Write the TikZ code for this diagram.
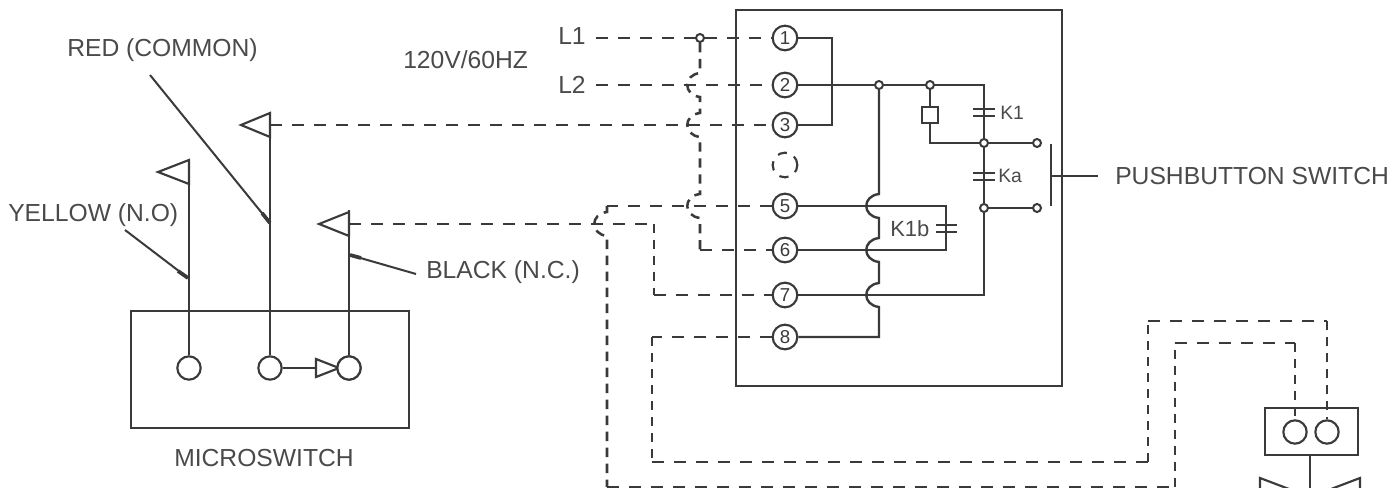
\documentclass[tikz,border=0pt]{standalone}
\usepackage{fontspec}
\setmainfont{Liberation Sans}
\definecolor{ink}{HTML}{3A3A3A}
\definecolor{txt}{HTML}{4A4A4A}
\def\jmpv#1#2{-- (#1,#2-12) .. controls (#1-17,#2-10) and (#1-17,#2+10) .. (#1,#2+12)}
\begin{document}
\begin{tikzpicture}[x=0.75pt,y=-0.75pt,
  wire/.style={draw=ink,line width=1.8pt,line join=miter},
  thin wire/.style={draw=ink,line width=1.5pt},
  dash h/.style={draw=ink,line width=1.9pt,dash pattern=on 9pt off 7.5pt},
  dash v/.style={draw=ink,line width=1.9pt,dash pattern=on 7pt off 5pt},
  term/.style={circle,draw=ink,line width=1.6pt,fill=white,minimum size=17.5pt,inner sep=0pt},
  numterm/.style={term,minimum size=18.5pt,font=\fontsize{14}{14}\selectfont,text=ink},
  dot/.style={circle,draw=ink,line width=1.5pt,fill=white,minimum size=6pt,inner sep=0pt},
  lbl/.style={inner sep=0pt,text=txt,font=\fontsize{18.5}{19}\selectfont},
  small lbl/.style={inner sep=0pt,text=txt,font=\fontsize{14.5}{15}\selectfont},
  mid lbl/.style={inner sep=0pt,text=txt,font=\fontsize{16.5}{17}\selectfont},
  flag/.style={draw=ink,line width=1.6pt,fill=white,line join=miter},
  leader/.style={draw=ink,line width=1.5pt},
  tip/.style={draw=ink,line width=2.8pt},
  box/.style={draw=ink,line width=1.9pt}]
\useasboundingbox (0,0) rectangle (1389,488);
\clip (0,0) rectangle (1389,488);
% boxes
\draw[box] (736,10) rectangle (1062,386);
\draw[box] (131,311) rectangle (409,428);
\draw[box] (1265,408) rectangle (1358,455);
% terminals
\node[numterm] (c1) at (785,38) {1};
\node[numterm] (c2) at (785,85) {2};
\node[numterm] (c3) at (785,125) {3};
\node[term,draw=ink,dash pattern=on 7pt off 6pt,minimum size=18.5pt] (c4) at (785,165) {};
\node[numterm] (c5) at (785,206) {5};
\node[numterm] (c6) at (785,250) {6};
\node[numterm] (c7) at (785,295) {7};
\node[numterm] (c8) at (785,337) {8};
\node[term] (my) at (189,368) {};
\node[term] (mr) at (270,368) {};
\node[term] (mb) at (349,368) {};
\node[term] (r1) at (1295,432) {};
\node[term] (r2) at (1327,432) {};
% dots
\node[dot] (jL) at (700,38) {};
\node[dot] (j1) at (879,85) {};
\node[dot] (j2) at (930,85) {};
\node[dot] (j3) at (984,143) {};
\node[dot] (j4) at (1037,143) {};
\node[dot] (j5) at (984,208) {};
\node[dot] (j6) at (1037,208) {};
% texts
\node[lbl,anchor=west] (tl1) at (558,36) {L1};
\node[lbl,anchor=west] (tl2) at (558,85) {L2};
\node[lbl,anchor=west] (t120) at (403,60) {120V/60HZ};
\node[lbl,anchor=west] (tred) at (67,50) {RED (COMMON)};
\node[lbl,anchor=west] (tyel) at (8,215) {YELLOW (N.O)};
\node[lbl,anchor=west] (tblk) at (426,272) {BLACK (N.C.)};
\node[lbl] (tmic) at (264,458) {MICROSWITCH};
\node[lbl,anchor=west] (tpb) at (1115,176) {PUSHBUTTON SWITCH};
\node[small lbl,anchor=west] (tk1) at (1000,113) {K1};
\node[small lbl,anchor=west] (tka) at (998,176) {Ka};
\node[mid lbl,anchor=west] (tk1b) at (890,229) {K1b};
% relay coil
\node[draw=ink,line width=1.6pt,fill=white,minimum size=12.5pt,inner sep=0pt] (coil) at (930,115) {};
% coordinates
\coordinate (pbtop) at (1051,144);
\coordinate (pbbot) at (1051,206);
\coordinate (pbmid) at (1051,176);
\coordinate (pbend) at (1098,176);
\coordinate (ft) at (1310,455);
\coordinate (fb) at (1310,490);
\coordinate (a1) at (270,125);
\coordinate (a2) at (349,224);
\coordinate (m1) at (700,250);
\coordinate (n1) at (607,206);
\coordinate (n2) at (607,487);
\coordinate (n3) at (1175,487);
\coordinate (n4) at (1175,343);
\coordinate (n5) at (1295,343);
\coordinate (p1) at (654,224);
\coordinate (p2) at (654,295);
\coordinate (q1) at (652,337);
\coordinate (q2) at (652,462);
\coordinate (q3) at (1148,462);
\coordinate (q4) at (1148,321);
\coordinate (q5) at (1327,321);
% solid wiring inside relay box
\draw[wire] (c1) -- (832,38) -- (832,125) -- (c3);
\draw[wire] (c2) -- (j1);
\draw[wire] (j1) -- (j2);
\draw[wire] (j2) -- (984,85) -- (j3);
\draw[wire] (j2) -- (coil);
\draw[wire] (coil) -- (930,143) -- (j3);
\draw[wire] (j3) -- (j4);
\draw[wire] (j3) -- (j5);
\draw[wire] (j5) -- (j6);
\draw[wire] (j5) -- (984,295) -- (c7);
\draw[wire] (c5) -- (946,206) -- (946,250) -- (c6);
\draw[wire] (j1) \jmpv{879}{206} \jmpv{879}{250} \jmpv{879}{295} -- (879,337) -- (c8);
% contacts
\draw[thin wire] (973,109) -- (995,109) (973,116) -- (995,116);
\draw[thin wire] (973,173) -- (995,173) (973,180) -- (995,180);
\draw[thin wire] (936,225) -- (957,225) (936,232) -- (957,232);
% pushbutton
\draw[wire,line width=2pt] (pbtop) -- (pbbot);
\draw[wire] (pbmid) -- (pbend);
% dashed wiring
\draw[dash h] (tl1.east)++(10,2) -- (jL);
\draw[dash h] (jL) -- (c1);
\draw[dash h] (tl2.east)++(10,0) -- (c2);
\draw[dash h] (a1) -- (c3);
\draw[dash v] (jL) \jmpv{700}{85} \jmpv{700}{125} \jmpv{700}{206} -- (m1);
\draw[dash h] (m1) -- (c6);
\draw[dash h] (c5) -- (n1);
\draw[dash v] (n1) \jmpv{607}{224} -- (n2);
\draw[dash h] (n2) -- (n3);
\draw[dash v] (n3) -- (n4);
\draw[dash h] (n4) -- (n5);
\draw[dash v] (n5) -- (r1);
\draw[dash h] (a2) -- (p1);
\draw[dash v] (p1) -- (p2);
\draw[dash h] (p2) -- (c7);
\draw[dash h] (c8) -- (q1);
\draw[dash v] (q1) -- (q2);
\draw[dash h] (q2) -- (q3);
\draw[dash v] (q3) -- (q4);
\draw[dash h] (q4) -- (q5);
\draw[dash v] (q5) -- (r2);
% microswitch leads and flags
\draw[wire] (my) -- (189,160);
\draw[wire] (mr) -- (270,113);
\draw[wire] (mb) -- (349,210);
\draw[flag] (189,160) -- (158,172) -- (189,184) -- cycle;
\draw[flag] (270,113) -- (241,125) -- (270,137) -- cycle;
\draw[flag] (349,212) -- (319,224) -- (349,236) -- cycle;
\draw[wire] (mr) -- (316,368);
\draw[flag] (316,359) -- (339,368) -- (316,377) -- cycle;
\node[term] (mb2) at (349,368) {};
% leaders
\draw[leader] (150,75) -- (270,223);
\draw[tip] (262,213) -- (270,223);
\draw[leader] (125,230) -- (188,278);
\draw[tip] (178,271) -- (188,278);
\draw[leader] (tblk.west)++(-10,2) -- (350,255);
\draw[tip] (361,258) -- (350,255);
% lower right
\draw[wire] (ft) -- (fb);
\draw[flag] (1260,478) -- (1310,497) -- (1260,516) -- cycle;
\draw[flag] (1360,478) -- (1310,497) -- (1360,516) -- cycle;
\end{tikzpicture}
\end{document}
